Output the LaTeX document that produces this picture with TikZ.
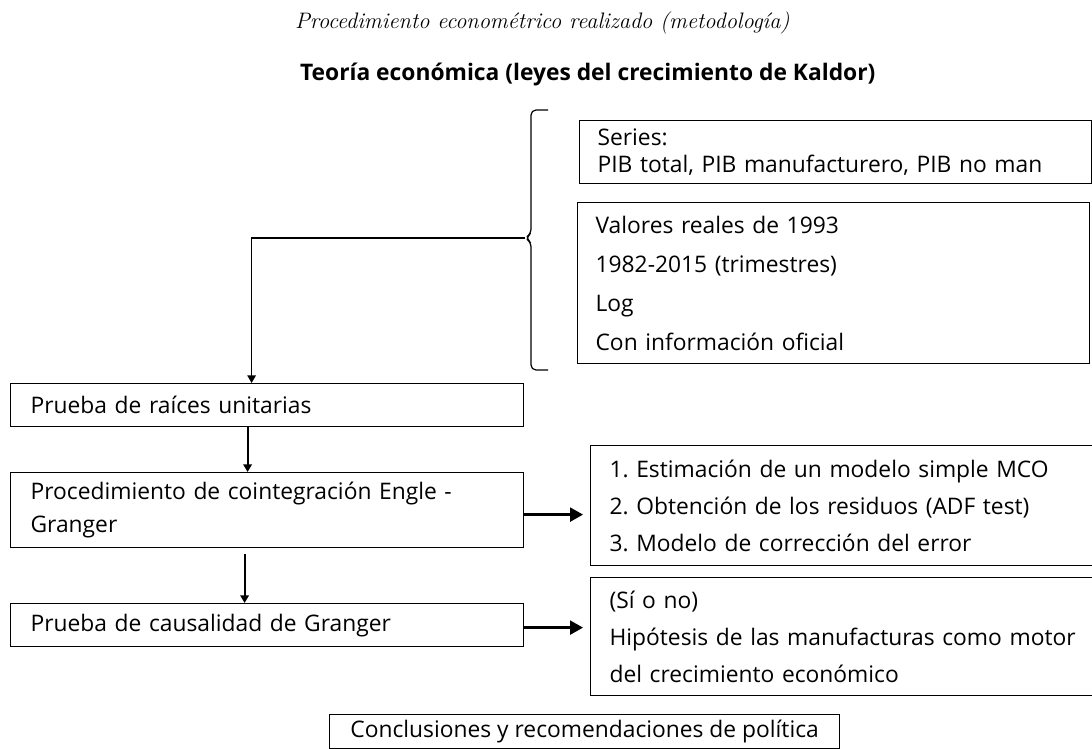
\documentclass[tikz,border=0pt]{standalone}
\usepackage{fontspec}
\setsansfont{Open Sans}
\usetikzlibrary{arrows.meta,positioning}
\frenchspacing

\begin{document}
\begin{tikzpicture}[x=0.5pt,y=-0.5pt,
		caja/.style={draw,line width=0.6pt,anchor=north west,align=left,inner xsep=10pt,inner ysep=0pt,font=\sffamily\fontsize{11.4}{19.5}\selectfont},
		flecha/.style={line width=0.9pt,-{Triangle[length=3.8pt,width=4.2pt]}},
		flechag/.style={line width=1.2pt,-{Triangle[length=6.5pt,width=7pt]}}]
		\fill[white] (0,0) rectangle (1092,749);
		\useasboundingbox (0,0) rectangle (1092,749);
		\node[anchor=west,font=\itshape\fontsize{11.2}{13}\selectfont] (titulo) at (288,23) {Procedimiento econométrico realizado (metodología)};
		\node[anchor=west,font=\sffamily\bfseries\fontsize{11.4}{14}\selectfont] (teoria) at (293,75) {Teoría económica (leyes del crecimiento de Kaldor)};
		\node[caja,inner xsep=9pt,text width=238pt,minimum height=31.5pt,font=\sffamily\fontsize{11.4}{13.5}\selectfont] (series) at (579,120) {Series:\\PIB total, PIB manufacturero, PIB no man};
		\node[caja,inner xsep=9pt,text width=238pt,minimum height=80.5pt] (valores) at (577,202) {Valores reales de 1993\\1982-2015 (trimestres)\\Log\\Con información oficial};
		\node[caja,text width=236.5pt,minimum height=21.5pt] (prueba) at (10,383) {Prueba de raíces unitarias};
		\node[caja,text width=236.5pt,minimum height=37.5pt,font=\sffamily\fontsize{11.4}{16.5}\selectfont] (coint) at (10,472) {Procedimiento de cointegración Engle -\\Granger};
		\node[caja,text width=236.5pt,minimum height=21.5pt] (causal) at (10,603) {Prueba de causalidad de Granger};
		\node[caja,inner xsep=9.5pt,text width=232pt,minimum height=60pt,font=\sffamily\fontsize{11.4}{18.5}\selectfont] (mco) at (590,445) {1. Estimación de un modelo simple MCO\\2. Obtención de los residuos (ADF test)\\3. Modelo de corrección del error};
		\node[caja,inner xsep=9.5pt,text width=232pt,minimum height=59pt,font=\sffamily\fontsize{11.4}{18.5}\selectfont] (hipo) at (590,577) {(Sí o no)\\\mbox{Hipótesis de las manufacturas como motor}\\del crecimiento económico};
		\node[caja,align=center,inner xsep=0pt,minimum width=255pt,minimum height=17pt] (concl) at (329,714) {Conclusiones y recomendaciones de política};
		\coordinate (llave) at (525,238);
		\draw[line width=0.6pt,rounded corners=2.5pt] (548,110) -- (531,110) -- (531,234) -- (llave) -- (531,242) -- (531,370) -- (548,370);
		\draw[flecha,line width=0.7pt] (llave) -| ([xshift=-7.75pt]prueba.north);
		\path[flecha]
		([xshift=-9.75pt]prueba.south) edge ([xshift=-9.75pt]coint.north)
		([xshift=-11.25pt,yshift=-3pt]coint.south) edge ([xshift=-11.25pt]causal.north);
		\path[flechag,shorten >=3.5pt]
		([yshift=-2.25pt]coint.east) edge ([yshift=-2.25pt]coint.east -| mco.west)
		([yshift=-1.25pt]causal.east) edge ([yshift=-1.25pt]causal.east -| hipo.west);
	\end{tikzpicture}
\end{document}
